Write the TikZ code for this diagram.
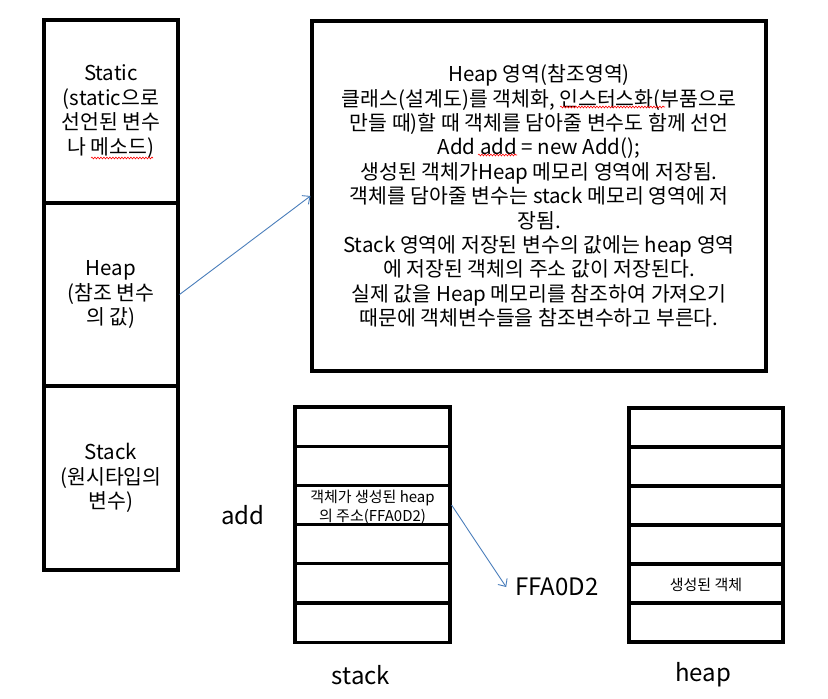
\documentclass[tikz,border=0pt]{standalone}
\usepackage{fontspec}
\setmainfont{Noto Sans CJK KR}
\usetikzlibrary{arrows.meta,decorations.pathmorphing}
\definecolor{arrowblue}{RGB}{74,126,187}
\begin{document}
\begin{tikzpicture}[x=1pt,y=-1pt,
  cell/.style={draw=black, line width=3.1pt, inner sep=0pt, align=center},
  bigtxt/.style={font=\fontsize{20.5}{24.4}\selectfont},
  smalltxt/.style={font=\fontsize{15}{18.5}\selectfont},
  labeltxt/.style={font=\fontsize{24}{28}\selectfont, inner sep=0pt},
  link/.style={draw=arrowblue, line width=0.9pt, -{Straight Barb[length=6pt,width=11pt,line width=0.9pt]}},
  squig/.style={draw=red, line width=0.6pt, decorate, decoration={snake, amplitude=0.9pt, segment length=3pt}}]
\useasboundingbox (0,0) rectangle (828,699);
\fill[white] (0,0) rectangle (828,699);

% left column
\node[cell, bigtxt, minimum width=134pt, minimum height=183pt] (lstatic) at (111,111.5)
  {Static\\(static으로\\선언된 변수\\나 메소드)};
\node[cell, bigtxt, minimum width=134pt, minimum height=183pt] (lheap) at (111,294.5)
  {Heap\\(참조 변수\\의 값)};
\node[cell, bigtxt, minimum width=134pt, minimum height=184pt] (lstack) at (111,478)
  {Stack\\(원시타입의\\변수)};

% big description box
\node[cell, bigtxt, minimum width=454pt, minimum height=350pt] (desc) at (539,196)
  {Heap 영역(참조영역)\\
   클래스(설계도)를 객체화, 인스터스화(부품으로\\
   만들 때)할 때 객체를 담아줄 변수도 함께 선언\\
   Add add = new Add();\\
   생성된 객체가Heap 메모리 영역에 저장됨.\\
   객체를 담아줄 변수는 stack 메모리 영역에 저\\
   장됨.\\
   Stack 영역에 저장된 변수의 값에는 heap 영역\\
   에 저장된 객체의 주소 값이 저장된다.\\
   실제 값을 Heap 메모리를 참조하여 가져오기\\
   때문에 객체변수들을 참조변수하고 부른다.};

% stack table
\foreach \i in {1,...,6} {
  \node[cell, minimum width=155pt, minimum height=39.2pt] (s\i) at (372.5,{407+19.6+39.2*(\i-1)}) {};
}
\node[smalltxt, align=center, inner sep=0pt] (stxt) at (372.5,507.5) {객체가 생성된 heap\\의 주소(FFA0D2)};

% heap table
\foreach \i in {1,...,6} {
  \node[cell, minimum width=154pt, minimum height=39pt] (h\i) at (706,{408+19.5+39*(\i-1)}) {};
}
\node[smalltxt, inner sep=0pt] (htxt) at (706,585) {생성된 객체};

% labels
\node[labeltxt] (addlbl) at (243,515) {add};
\node[labeltxt] (stacklbl) at (361,675) {stack};
\node[labeltxt] (heaplbl) at (703,675) {heap};
\node[labeltxt, inner xsep=9pt] (ffa) at (557,587) {FFA0D2};

% connectors
\draw[link] (lheap.east) -- (desc.west);
\draw[link] (s3.east) -- (ffa.west);

% spell-check squiggles
\draw[squig] (91,158) -- (153,158);
\draw[squig] (560,107) -- (665,107);
\draw[squig] (478,155) -- (517,155);
\end{tikzpicture}
\end{document}
